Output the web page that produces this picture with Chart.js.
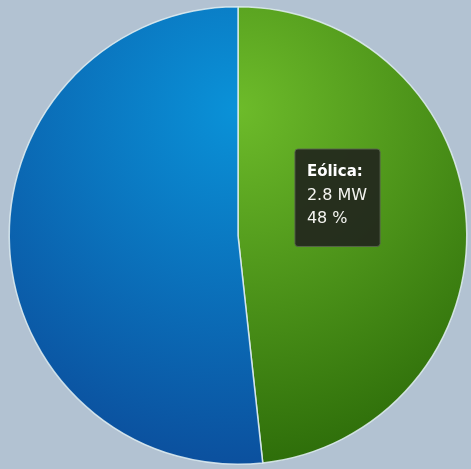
<html><head><meta charset="utf-8">
<script src="https://cdn.jsdelivr.net/npm/chart.js@4"></script>
<style>
 html,body{margin:0;padding:0;background:#b2c2d2;}
 #wrap{position:relative;width:471px;height:469px;}
</style>
</head>
<body>
<div id="wrap"><canvas id="myChart" width="471" height="469"></canvas></div>
<script>
var labels = ['Eólica', 'Solar'];
var valuesMW = [2.8, 3.0];
var percents = [48, 52];
var lightColors = ['#6dbb2a', '#0a92d8'];
var darkColors = ['#2e6e0a', '#0b509e'];

function sliceFill(ctx) {
  var chart = ctx.chart, a = chart.chartArea;
  if (!a) return lightColors[ctx.dataIndex];
  var cx = (a.left + a.right) / 2, cy = (a.top + a.bottom) / 2;
  var r = Math.min(a.right - a.left, a.bottom - a.top) / 2;
  var g = chart.ctx.createRadialGradient(cx, cy - r * 0.55, 0, cx, cy - r * 0.55, r * 1.55);
  g.addColorStop(0, lightColors[ctx.dataIndex]);
  g.addColorStop(1, darkColors[ctx.dataIndex]);
  return g;
}

Chart.Tooltip.positioners.inside = function (items) {
  if (!items.length) return false;
  var el = items[0].element;
  return { x: el.x + el.outerRadius * 0.435, y: el.y - el.outerRadius * 0.165 };
};

var ctx = document.getElementById('myChart');
var myChart = new Chart(ctx, {
  type: 'pie',
  data: {
    labels: labels,
    datasets: [{
      data: valuesMW,
      backgroundColor: sliceFill,
      hoverBackgroundColor: sliceFill,
      borderColor: 'rgba(225,238,242,0.85)',
      hoverBorderColor: 'rgba(225,238,242,0.85)',
      borderWidth: 1.5,
      hoverOffset: 0
    }]
  },
  options: {
    responsive: false,
    animation: false,
    layout: { padding: { left: 8, right: 3, top: 6, bottom: 4 } },
    events: [],
    plugins: {
      legend: { display: false },
      tooltip: {
        position: 'inside',
        xAlign: 'center',
        yAlign: 'center',
        caretSize: 0,
        displayColors: false,
        backgroundColor: 'rgba(34,39,29,0.93)',
        borderColor: 'rgba(90,100,80,0.9)',
        borderWidth: 1,
        cornerRadius: 3,
        padding: { left: 12, right: 13, top: 14, bottom: 18 },
        titleFont: { family: 'DejaVu Sans', size: 15, weight: 'bold' },
        bodyFont: { family: 'DejaVu Sans', size: 16 },
        titleColor: '#ffffff',
        bodyColor: '#f4f4f0',
        titleMarginBottom: 5,
        bodySpacing: 4,
        callbacks: {
          title: function (items) { return items[0].label + ':'; },
          label: function (item) {
            return [valuesMW[item.dataIndex] + ' MW', percents[item.dataIndex] + ' %'];
          }
        }
      }
    }
  }
});

myChart.tooltip.setActiveElements([{ datasetIndex: 0, index: 0 }], { x: 0, y: 0 });
myChart.update();
</script>
</body></html>
